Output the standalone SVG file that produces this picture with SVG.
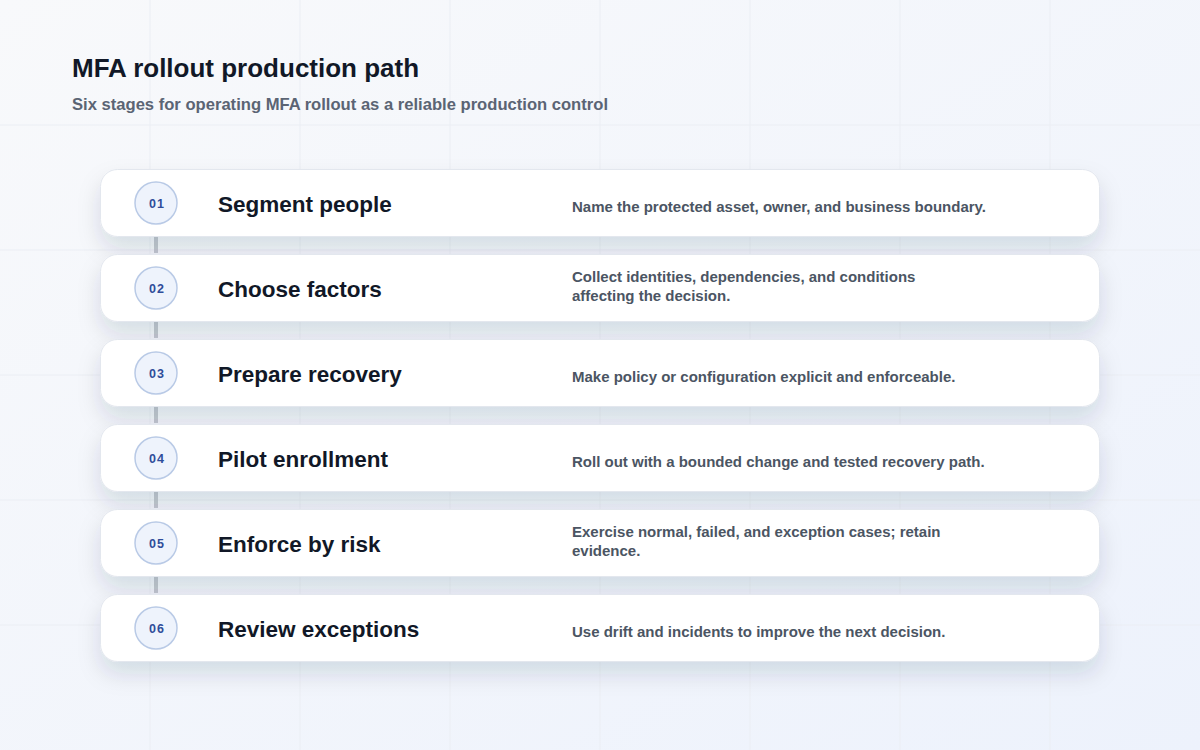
<svg xmlns="http://www.w3.org/2000/svg" width="1200" height="750" viewBox="0 0 1200 750">
  <defs>
    <linearGradient id="bg" x1="0" y1="0" x2="1" y2="1">
      <stop offset="0" stop-color="#f8f9fb"/>
      <stop offset="1" stop-color="#edf2fc"/>
    </linearGradient>
    <filter id="shadow" x="-10%" y="-40%" width="120%" height="200%">
      <feDropShadow dx="0" dy="12" stdDeviation="11" flood-color="#1e2a4a" flood-opacity="0.13"/>
    </filter>
    <style>
      .grid { stroke: #ebeef4; stroke-width: 1; }
      .card { fill: #ffffff; stroke: #e3e7ee; stroke-width: 1; filter: url(#shadow); }
      .badge { fill: #eef3fc; stroke: #b9cae6; stroke-width: 1.5; }
      .num { font-family: "Liberation Sans", Arial, sans-serif; font-size: 12.5px; font-weight: 700; fill: #2f4d9a; letter-spacing: 1px; text-anchor: middle; }
      .title { font-family: "Liberation Sans", Arial, sans-serif; font-size: 22.5px; font-weight: 700; fill: #111827; }
      .desc { font-family: "Liberation Sans", Arial, sans-serif; font-size: 15px; font-weight: 700; fill: #4b5563; }
      .link { stroke: #c4c8d0; stroke-width: 4; }
      .h1 { font-family: "Liberation Sans", Arial, sans-serif; font-size: 26px; font-weight: 700; fill: #111827; }
      .h2 { font-family: "Liberation Sans", Arial, sans-serif; font-size: 16.6px; font-weight: 700; fill: #5b6474; }
    </style>
  </defs>

  <rect x="0" y="0" width="1200" height="750" fill="url(#bg)"/>
  <g id="grid">
    <line class="grid" x1="150" y1="0" x2="150" y2="750"/>
    <line class="grid" x1="300" y1="0" x2="300" y2="750"/>
    <line class="grid" x1="450" y1="0" x2="450" y2="750"/>
    <line class="grid" x1="600" y1="0" x2="600" y2="750"/>
    <line class="grid" x1="750" y1="0" x2="750" y2="750"/>
    <line class="grid" x1="900" y1="0" x2="900" y2="750"/>
    <line class="grid" x1="1050" y1="0" x2="1050" y2="750"/>
    <line class="grid" x1="0" y1="125" x2="1200" y2="125"/>
    <line class="grid" x1="0" y1="250" x2="1200" y2="250"/>
    <line class="grid" x1="0" y1="375" x2="1200" y2="375"/>
    <line class="grid" x1="0" y1="500" x2="1200" y2="500"/>
    <line class="grid" x1="0" y1="625" x2="1200" y2="625"/>
  </g>

  <g id="header">
    <text class="h1" x="72" y="77">MFA rollout production path</text>
    <text class="h2" x="72" y="110">Six stages for operating MFA rollout as a reliable production control</text>
  </g>

  <g id="connectors">
    <line class="link" x1="156" y1="237" x2="156" y2="253"/>
    <line class="link" x1="156" y1="322" x2="156" y2="338"/>
    <line class="link" x1="156" y1="407" x2="156" y2="423"/>
    <line class="link" x1="156" y1="492" x2="156" y2="508"/>
    <line class="link" x1="156" y1="577" x2="156" y2="593"/>
  </g>

  <g id="stage1">
    <rect class="card" x="100.5" y="169.5" width="999" height="67" rx="17"/>
    <circle class="badge" cx="156" cy="203" r="21"/>
    <text class="num" x="157" y="207.5">01</text>
    <text class="title" x="218" y="212">Segment people</text>
    <text class="desc" x="572" y="212">Name the protected asset, owner, and business boundary.</text>
  </g>
  <g id="stage2">
    <rect class="card" x="100.5" y="254.5" width="999" height="67" rx="17"/>
    <circle class="badge" cx="156" cy="288" r="21"/>
    <text class="num" x="157" y="292.5">02</text>
    <text class="title" x="218" y="297">Choose factors</text>
    <text class="desc" x="572" y="282">Collect identities, dependencies, and conditions</text>
    <text class="desc" x="572" y="301">affecting the decision.</text>
  </g>
  <g id="stage3">
    <rect class="card" x="100.5" y="339.5" width="999" height="67" rx="17"/>
    <circle class="badge" cx="156" cy="373" r="21"/>
    <text class="num" x="157" y="377.5">03</text>
    <text class="title" x="218" y="382">Prepare recovery</text>
    <text class="desc" x="572" y="382">Make policy or configuration explicit and enforceable.</text>
  </g>
  <g id="stage4">
    <rect class="card" x="100.5" y="424.5" width="999" height="67" rx="17"/>
    <circle class="badge" cx="156" cy="458" r="21"/>
    <text class="num" x="157" y="462.5">04</text>
    <text class="title" x="218" y="467">Pilot enrollment</text>
    <text class="desc" x="572" y="467">Roll out with a bounded change and tested recovery path.</text>
  </g>
  <g id="stage5">
    <rect class="card" x="100.5" y="509.5" width="999" height="67" rx="17"/>
    <circle class="badge" cx="156" cy="543" r="21"/>
    <text class="num" x="157" y="547.5">05</text>
    <text class="title" x="218" y="552">Enforce by risk</text>
    <text class="desc" x="572" y="537">Exercise normal, failed, and exception cases; retain</text>
    <text class="desc" x="572" y="556">evidence.</text>
  </g>
  <g id="stage6">
    <rect class="card" x="100.5" y="594.5" width="999" height="67" rx="17"/>
    <circle class="badge" cx="156" cy="628" r="21"/>
    <text class="num" x="157" y="632.5">06</text>
    <text class="title" x="218" y="637">Review exceptions</text>
    <text class="desc" x="572" y="637">Use drift and incidents to improve the next decision.</text>
  </g>
</svg>
